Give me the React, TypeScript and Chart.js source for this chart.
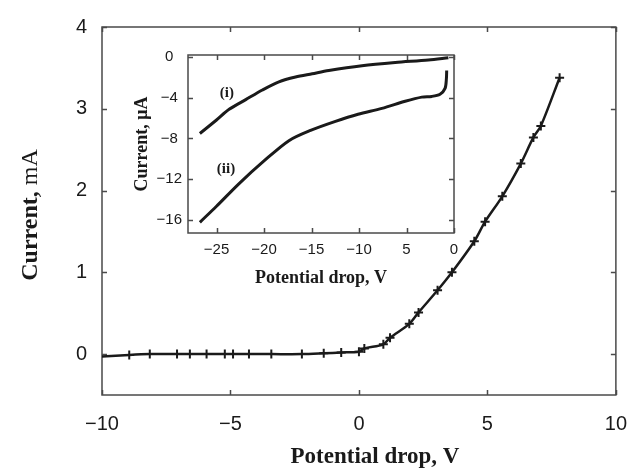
import React, { useEffect, useRef } from "react";
import { Chart, registerables } from "chart.js";

Chart.register(...registerables);

// ---------- main chart data (Potential drop V vs Current mA) ----------
const mainX = [-10, -8.94, -8.14, -7.08, -6.58, -5.93, -5.22, -4.9, -4.28, -3.41, -2.22, -1.37, -0.69, 0.0, 0.21, 0.95, 1.21, 1.96, 2.32, 3.06, 3.62, 4.49, 4.91, 5.58, 6.3, 6.79, 7.08, 7.81];
const mainY = [-0.03, -0.01, 0, 0, 0, 0, 0, 0, 0, 0, 0, 0.01, 0.02, 0.03, 0.07, 0.12, 0.2, 0.37, 0.51, 0.78, 1.0, 1.38, 1.62, 1.93, 2.33, 2.65, 2.79, 3.38];
const mainMarker = [false, true, true, true, true, true, true, true, true, true, true, true, true, true, true, true, true, true, true, true, true, true, true, true, true, true, true, true];
const mainXTicks = [-10, -5, 0, 5, 10];
const mainYTicks = [0, 1, 2, 3, 4];

// ---------- inset data (Potential drop V vs Current µA) ----------
const curveIX = [-26.75, -25, -23.67, -21.92, -20.17, -18.43, -16.68, -14.93, -13.18, -9.69, -6.19, -2.69, -0.59];
const curveIY = [-7.52, -6.19, -5.14, -4.19, -3.24, -2.44, -1.97, -1.65, -1.33, -0.86, -0.54, -0.29, -0.06];
const curveIIX = [-26.75, -25, -22.62, -20, -17.38, -15.1, -12.48, -10.1, -7.59, -5.14, -3.39, -2.34, -1.47, -0.94, -0.8, -0.77];
const curveIIY = [-16.25, -14.67, -12.44, -10.22, -8.22, -7.21, -6.32, -5.62, -5.05, -4.35, -3.94, -3.87, -3.65, -3.08, -2.13, -1.33];
const insetXTicks = [-25, -20, -15, -10, -5, 0];
const insetXTickLabels = ["\u221225", "\u221220", "\u221215", "\u221210", "5", "0"];
const insetYTicks = [0, -4, -8, -12, -16];
const curveLabels = ["(i)", "(ii)"];
const curveLabelX = [-23.9, -24.0];
const curveLabelY = [-3.5, -11.05];

const SANS = "'Liberation Sans', Arial, Helvetica, sans-serif";
const SERIF = "'Liberation Serif', 'Times New Roman', serif";
const INK = "#1a1a1a";
const FRAME = "#4a4a4a";

const fmt = (v: number) => (v < 0 ? "\u2212" + Math.abs(v) : String(v));

const frameTicks = (len: number, width: number) => ({
  id: "frameTicks",
  beforeDatasetsDraw(chart: any) {
    const { ctx, chartArea: a, scales } = chart;
    ctx.save();
    ctx.strokeStyle = FRAME;
    ctx.lineWidth = width;
    ctx.strokeRect(a.left, a.top, a.right - a.left, a.bottom - a.top);
    ctx.beginPath();
    for (const t of scales.x.ticks) {
      const p = Math.round(scales.x.getPixelForValue(t.value)) + 0.5;
      ctx.moveTo(p, a.bottom);
      ctx.lineTo(p, a.bottom - len);
      ctx.moveTo(p, a.top);
      ctx.lineTo(p, a.top + len);
    }
    for (const t of scales.y.ticks) {
      const p = Math.round(scales.y.getPixelForValue(t.value)) + 0.5;
      ctx.moveTo(a.left, p);
      ctx.lineTo(a.left + len, p);
      ctx.moveTo(a.right, p);
      ctx.lineTo(a.right - len, p);
    }
    ctx.stroke();
    ctx.restore();
  },
});

const mainTitles = {
  id: "mainTitles",
  afterDraw(chart: any) {
    const { ctx } = chart;
    ctx.save();
    ctx.fillStyle = INK;
    ctx.textBaseline = "middle";
    // x title
    ctx.font = `bold 23px ${SERIF}`;
    ctx.textAlign = "center";
    ctx.fillText("Potential drop, V", 375, 457);
    // y title (rotated), "Current," bold + " mA" regular
    ctx.translate(31, 215);
    ctx.rotate(-Math.PI / 2);
    ctx.textAlign = "left";
    const p1 = "Current,";
    const p2 = " mA";
    ctx.font = `bold 24px ${SERIF}`;
    const w1 = ctx.measureText(p1).width;
    ctx.font = `24px ${SERIF}`;
    const w2 = ctx.measureText(p2).width;
    const start = -(w1 + w2) / 2;
    ctx.font = `bold 24px ${SERIF}`;
    ctx.fillText(p1, start, 0);
    ctx.font = `24px ${SERIF}`;
    ctx.fillText(p2, start + w1, 0);
    ctx.restore();
  },
};

const insetLabels = {
  id: "insetLabels",
  afterDatasetsDraw(chart: any) {
    const { ctx, scales } = chart;
    ctx.save();
    ctx.fillStyle = INK;
    ctx.font = `bold 15px ${SERIF}`;
    ctx.textAlign = "center";
    ctx.textBaseline = "middle";
    curveLabels.forEach((t, i) => {
      ctx.fillText(t, scales.x.getPixelForValue(curveLabelX[i]), scales.y.getPixelForValue(curveLabelY[i]));
    });
    ctx.restore();
  },
};

export default function App() {
  const mainRef = useRef<HTMLCanvasElement>(null);
  const insetRef = useRef<HTMLCanvasElement>(null);

  useEffect(() => {
    const mainChart = new Chart(mainRef.current!, {
      type: "scatter",
      data: {
        datasets: [
          {
            data: mainX.map((x, i) => ({ x, y: mainY[i] })),
            showLine: true,
            borderColor: INK,
            borderWidth: 2.5,
            tension: 0.3,
            pointStyle: "cross",
            pointRadius: mainMarker.map((m) => (m ? 4.5 : 0)),
            pointBorderWidth: 2,
            pointBorderColor: INK,
            pointBackgroundColor: INK,
          } as any,
        ],
      },
      options: {
        animation: false,
        responsive: false,
        layout: { padding: { left: 0, right: 27, top: 14, bottom: 0 } },
        plugins: { legend: { display: false }, tooltip: { enabled: false } },
        scales: {
          x: {
            type: "linear",
            min: -10,
            max: 10,
            afterFit: (s: any) => { s.height = 73; },
            afterBuildTicks: (s: any) => { s.ticks = mainXTicks.map((v) => ({ value: v })); },
            grid: { display: false, drawTicks: false },
            border: { display: false },
            ticks: { padding: 17, color: INK, font: { family: SANS, size: 20 }, maxRotation: 0, autoSkip: false, callback: (v: any) => fmt(Number(v)) },
          },
          y: {
            type: "linear",
            min: -0.5,
            max: 4,
            afterFit: (s: any) => { s.width = 102; },
            afterBuildTicks: (s: any) => { s.ticks = mainYTicks.map((v) => ({ value: v })); },
            grid: { display: false, drawTicks: false },
            border: { display: false },
            ticks: { padding: 15, color: INK, font: { family: SANS, size: 20 }, autoSkip: false, callback: (v: any) => fmt(Number(v)) },
          },
        },
      },
      plugins: [frameTicks(5, 1.5), mainTitles],
    });

    const insetChart = new Chart(insetRef.current!, {
      type: "scatter",
      data: {
        datasets: [
          {
            data: curveIX.map((x, i) => ({ x, y: curveIY[i] })),
            showLine: true,
            borderColor: INK,
            borderWidth: 3,
            tension: 0.3,
            pointRadius: 0,
          } as any,
          {
            data: curveIIX.map((x, i) => ({ x, y: curveIIY[i] })),
            showLine: true,
            borderColor: INK,
            borderWidth: 3,
            tension: 0.3,
            pointRadius: 0,
          } as any,
        ],
      },
      options: {
        animation: false,
        responsive: false,
        layout: { padding: { left: 0, right: 16, top: 9, bottom: 0 } },
        plugins: { legend: { display: false }, tooltip: { enabled: false } },
        scales: {
          x: {
            type: "linear",
            min: -28,
            max: 0,
            afterFit: (s: any) => { s.height = 67; },
            afterBuildTicks: (s: any) => { s.ticks = insetXTicks.map((v) => ({ value: v })); },
            grid: { display: false, drawTicks: false },
            border: { display: false },
            ticks: {
              padding: 8,
              color: INK,
              font: { family: SANS, size: 15 },
              maxRotation: 0,
              autoSkip: false,
              callback: (v: any) => {
                const i = insetXTicks.indexOf(Number(v));
                return i >= 0 ? insetXTickLabels[i] : "";
              },
            },
            title: { display: true, text: "Potential drop, V", color: INK, font: { family: SERIF, size: 18, weight: "bold" }, padding: { top: 0, bottom: 11 } },
          },
          y: {
            type: "linear",
            min: -17.3,
            max: 0.2,
            afterFit: (s: any) => { s.width = 68; },
            afterBuildTicks: (s: any) => { s.ticks = insetYTicks.map((v) => ({ value: v })); },
            grid: { display: false, drawTicks: false },
            border: { display: false },
            ticks: { padding: 6, crossAlign: "center", color: INK, font: { family: SANS, size: 15 }, autoSkip: false, callback: (v: any) => fmt(Number(v)) },
            title: { display: true, text: "Current, \u03bcA", color: INK, font: { family: SERIF, size: 18, weight: "bold" }, padding: { top: 12, bottom: 0 } },
          },
        },
      },
      plugins: [frameTicks(5, 1.5), insetLabels],
    });

    return () => {
      mainChart.destroy();
      insetChart.destroy();
    };
  }, []);

  return (
    <div style={{ position: "fixed", left: 0, top: 0, width: 644, height: 468, background: "#fff" }}>
      <canvas ref={mainRef} width={644} height={468} style={{ position: "absolute", left: 0, top: 0 }} />
      <canvas ref={insetRef} width={350} height={260} style={{ position: "absolute", left: 120, top: 40 }} />
    </div>
  );
}
